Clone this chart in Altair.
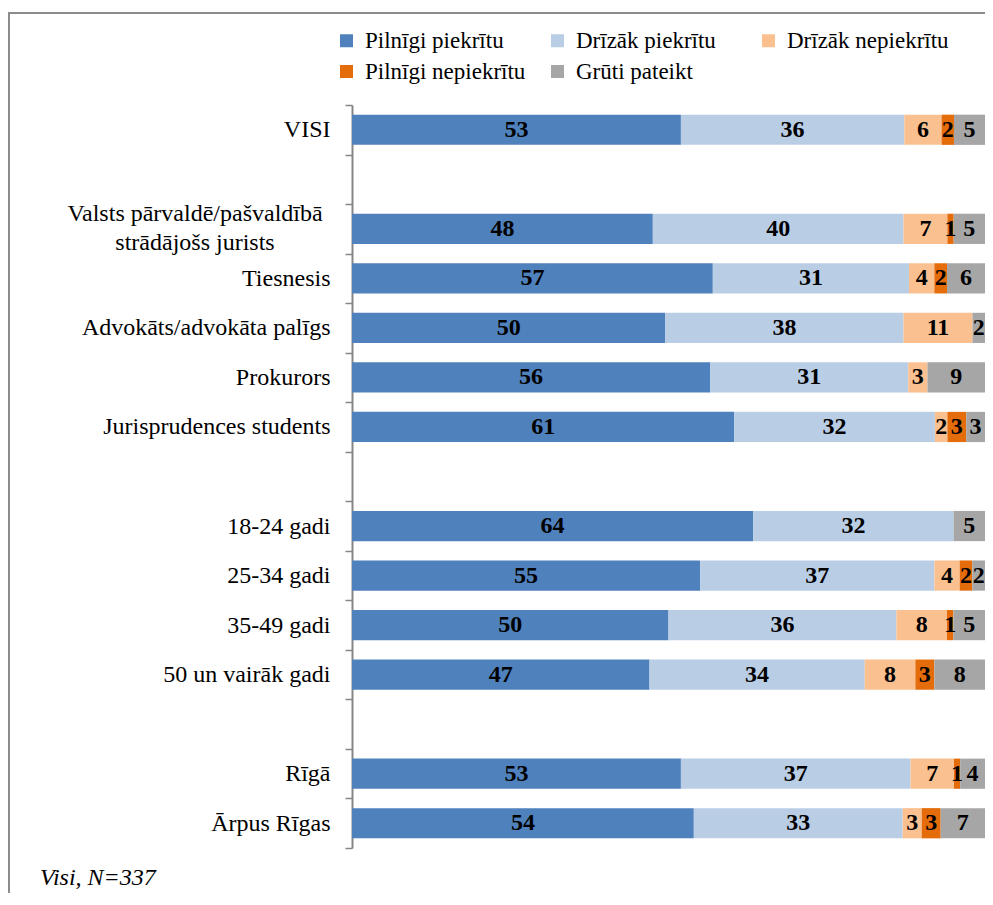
import altair as alt
import pandas as pd

rows = ["VISI", "Valsts pārvaldē/pašvaldībā strādājošs jurists", "Tiesnesis",
        "Advokāts/advokāta palīgs", "Prokurors", "Jurisprudences students",
        "18-24 gadi", "25-34 gadi", "35-49 gadi", "50 un vairāk gadi",
        "Rīgā", "Ārpus Rīgas"]
row_order = ["VISI", " ", "Valsts pārvaldē/pašvaldībā strādājošs jurists", "Tiesnesis",
             "Advokāts/advokāta palīgs", "Prokurors", "Jurisprudences students", "  ",
             "18-24 gadi", "25-34 gadi", "35-49 gadi", "50 un vairāk gadi", "   ",
             "Rīgā", "Ārpus Rīgas"]
responses = ["Pilnīgi piekrītu", "Drīzāk piekrītu", "Drīzāk nepiekrītu",
             "Pilnīgi nepiekrītu", "Grūti pateikt"]
colors = ["#4F81BD", "#B9CDE5", "#FAC090", "#E46C0A", "#A6A6A6"]

pilnigi_piekritu = [53, 48, 57, 50, 56, 61, 64, 55, 50, 47, 53, 54]
drizak_piekritu = [36, 40, 31, 38, 31, 32, 32, 37, 36, 34, 37, 33]
drizak_nepiekritu = [6, 7, 4, 11, 3, 2, 0, 4, 8, 8, 7, 3]
pilnigi_nepiekritu = [2, 1, 2, 0, 0, 3, 0, 2, 1, 3, 1, 3]
gruti_pateikt = [5, 5, 6, 2, 9, 3, 5, 2, 5, 8, 4, 7]

two_line_row = "Valsts pārvaldē/pašvaldībā strādājošs jurists"
two_line_text = ["Valsts pārvaldē/pašvaldībā", "strādājošs jurists"]
note = "Visi, N=337"

series = [pilnigi_piekritu, drizak_piekritu, drizak_nepiekritu, pilnigi_nepiekritu, gruti_pateikt]
recs = []
for i, r in enumerate(rows):
    for k, resp in enumerate(responses):
        v = series[k][i]
        if v > 0:
            recs.append({"row": r, "resp": resp, "order": k, "value": v})
df = pd.DataFrame(recs)

FONT = "Liberation Serif"

yscale = alt.Scale(domain=row_order, paddingInner=0, paddingOuter=0)
xscale = alt.Scale(domain=[0, 1], nice=False, zero=True)

base = alt.Chart(df).transform_joinaggregate(
    total="sum(value)", groupby=["row"]
).transform_window(
    cum="sum(value)", sort=[alt.SortField("order")], groupby=["row"], frame=[None, 0]
).transform_calculate(
    x0="(datum.cum - datum.value) / datum.total",
    x1="datum.cum / datum.total",
    xm="(datum.cum - datum.value / 2) / datum.total",
)

bars = base.mark_bar(height={"band": 0.61}).encode(
    y=alt.Y("row:N", scale=yscale, title=None,
            axis=alt.Axis(labelExpr=f"datum.label == '{two_line_row}' ? '' : datum.label",
                          labelFont=FONT, labelFontSize=24, labelColor="black",
                          labelPadding=15, labelLimit=400, tickSize=7, tickBand="extent",
                          domainColor="#868686", domainWidth=2,
                          tickColor="#868686", tickWidth=1.5)),
    x=alt.X("x0:Q", scale=xscale, axis=None),
    x2="x1:Q",
    color=alt.Color("resp:N", scale=alt.Scale(domain=responses, range=colors),
                    legend=alt.Legend(orient="none", legendX=-17, legendY=-76,
                                      direction="horizontal", columns=3,
                                      gridAlign="all", title=None,
                                      symbolType="square", symbolSize=169,
                                      symbolStrokeWidth=0,
                                      labelFont=FONT, labelFontSize=23,
                                      labelColor="black", columnPadding=19,
                                      rowPadding=7, labelOffset=7, labelLimit=300)),
)

labels = base.mark_text(font=FONT, fontWeight="bold", fontSize=24, color="black").encode(
    y=alt.Y("row:N", scale=yscale),
    x=alt.X("xm:Q", scale=xscale),
    text="value:Q",
)

two_line = alt.Chart(pd.DataFrame({"row": [two_line_row]})).mark_text(
    text=two_line_text, font=FONT, fontSize=24, align="center", baseline="middle",
    lineHeight=29, dy=-15, color="black"
).encode(y=alt.Y("row:N", scale=yscale), x=alt.value(-157))

foot = alt.Chart(pd.DataFrame({"t": [note]})).mark_text(
    font=FONT, fontSize=24, fontStyle="italic", align="left", color="black"
).encode(text="t:N", x=alt.value(-312), y=alt.value(773))

frame_left = alt.Chart(pd.DataFrame({"a": [0]})).mark_rule(
    color="#8c8c8c", strokeWidth=2
).encode(x=alt.value(-343), y=alt.value(-92), y2=alt.value(788))
frame_top = alt.Chart(pd.DataFrame({"a": [0]})).mark_rule(
    color="#8c8c8c", strokeWidth=2
).encode(x=alt.value(-344), x2=alt.value(633), y=alt.value(-92))

chart = alt.layer(bars, labels, two_line, foot, frame_left, frame_top).properties(
    width=633, height=743,
    padding={"left": 344, "top": 97, "right": 0, "bottom": 45},
    autosize=alt.AutoSizeParams(type="none"),
).configure_view(strokeWidth=0)

chart.save("out.html", embed_options={"renderer": "svg", "actions": False})
